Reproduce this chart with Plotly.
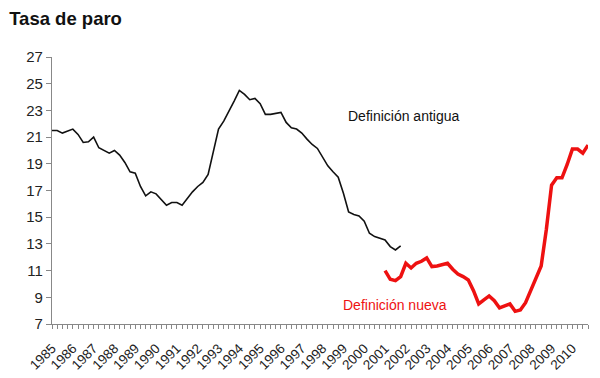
import plotly.graph_objects as go

years = [str(y) for y in range(1985, 2011)]
quarter_index = list(range(0, 104))

old_def = [21.5, 21.5, 21.3, 21.45, 21.6, 21.2, 20.6, 20.65, 21.0, 20.2,
           20.0, 19.8, 20.0, 19.65, 19.1, 18.4, 18.3, 17.3, 16.6, 16.9,
           16.75, 16.3, 15.9, 16.1, 16.1, 15.9, 16.4, 16.9, 17.3, 17.6,
           18.2, 19.9, 21.6, 22.2, 22.9, 23.7, 24.5, 24.2, 23.8, 23.9,
           23.5, 22.7, 22.7, 22.8, 22.85, 22.1, 21.7, 21.6, 21.3, 20.85,
           20.45, 20.15, 19.5, 18.85, 18.4, 18.0, 16.8, 15.4, 15.2, 15.1,
           14.7, 13.8, 13.55, 13.45, 13.3, 12.8, 12.55, 12.85]

new_def = [11.0, 10.35, 10.25, 10.55, 11.55, 11.2, 11.55, 11.7, 11.95, 11.3,
           11.35, 11.45, 11.55, 11.1, 10.75, 10.55, 10.3, 9.5, 8.5, 8.8,
           9.1, 8.75, 8.2, 8.35, 8.5, 7.95, 8.05, 8.6, 9.5, 10.3,
           11.35, 14.1, 17.4, 17.95, 17.95, 18.95, 20.1, 20.1, 19.8, 20.4]

old_x = quarter_index[:len(old_def)]
new_x = quarter_index[64:64 + len(new_def)]

y_ticks = list(range(7, 28, 2))

fig = go.Figure()
fig.add_trace(go.Scatter(x=old_x, y=old_def, mode="lines",
                         line=dict(color="#111111", width=1.6), showlegend=False,
                         cliponaxis=False))
fig.add_trace(go.Scatter(x=new_x, y=new_def, mode="lines",
                         line=dict(color="#ee1111", width=3.5), showlegend=False,
                         cliponaxis=False))

fig.update_layout(
    width=592, height=370,
    margin=dict(l=44, r=12, t=49, b=54),
    paper_bgcolor="white", plot_bgcolor="white",
    font=dict(family="Liberation Sans, Arial, sans-serif", color="#222222"),
    title=dict(text="<b>Tasa de paro</b>", x=0.002, xanchor="left",
               y=0.972, yanchor="middle", font=dict(size=18.5, color="#111111")),
    annotations=[
        dict(text="Definición antigua", x=67.6, y=22.55, xref="x", yref="y",
             showarrow=False, font=dict(size=14, color="#111111")),
        dict(text="Definición nueva", x=66, y=8.42, xref="x", yref="y",
             showarrow=False, font=dict(size=14, color="#ee1111")),
    ],
)

fig.update_xaxes(
    range=[0, 103], tickmode="array", automargin=False,
    tickvals=[i * 4 for i in range(len(years))], ticktext=years,
    tickangle=-45, tickfont=dict(size=13.5, color="#222222"),
    ticklabelstandoff=6,
    showline=True, linecolor="#888888", linewidth=1.2,
    ticks="outside", ticklen=4, tickcolor="#888888",
    minor=dict(dtick=1, ticks="outside", ticklen=4, tickcolor="#888888"),
    showgrid=False, zeroline=False,
)
fig.update_yaxes(
    range=[7, 27], tickmode="array", tickvals=y_ticks, automargin=False,
    tickfont=dict(size=15, color="#222222"),
    showline=True, linecolor="#888888", linewidth=1.2,
    ticks="outside", ticklen=5, tickcolor="#888888",
    showgrid=False, zeroline=False,
)

fig.write_html("out.html")
